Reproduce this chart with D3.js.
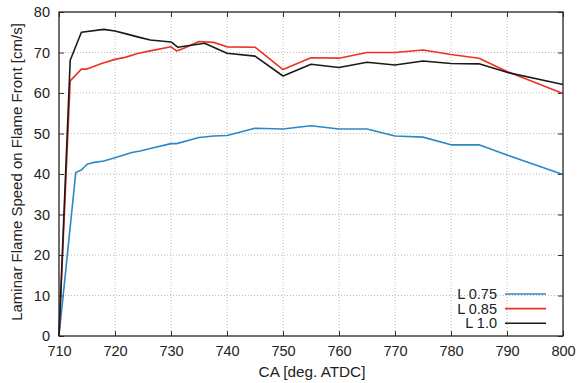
<!DOCTYPE html>
<html><head><meta charset="utf-8">
<script src="https://cdn.jsdelivr.net/npm/d3@7"></script>
<style>
body{margin:0;background:#fff;}
svg{display:block;font-family:"Liberation Sans",Arial,Helvetica,sans-serif;}
</style></head><body>
<svg id="c" width="579" height="383"></svg>
<script>
const xTicks = [710,720,730,740,750,760,770,780,790,800];
const yTicks = [0,10,20,30,40,50,60,70,80];
const seriesNames = ["L 0.75","L 0.85","L 1.0"];
const seriesColors = ["#2b88c8","#ee3124","#1a1a1a"];

const caBlue = [710,713,714,715,716,718,720,723,724.5,726.3,730,731,735,737.6,740,745,750,755,760,765,770,775,780,785,790,800];
const valBlue = [0,40.4,41,42.4,42.8,43.2,44,45.3,45.7,46.3,47.5,47.5,49,49.4,49.5,51.3,51.1,51.9,51.1,51.1,49.4,49.1,47.2,47.2,44.7,39.9];

const caRed = [710,712,714,715,717.6,720,721.8,724.2,726.3,730,731,732.2,735,737.6,740,745,750,755,760,765,770,775,780,785,790,800];
const valRed = [0,63,65.9,65.9,67.3,68.3,68.8,69.8,70.4,71.4,70.4,71,72.7,72.5,71.4,71.3,65.8,68.7,68.6,70,70,70.6,69.5,68.6,65.3,59.9];

const caBlack = [710,712,714,718,720,722,724.2,726.3,730,731.2,736,740,745,750,755,760,765,770,775,780,785,790,800];
const valBlack = [0,68.1,75,75.7,75.3,74.6,73.8,73.1,72.6,71.3,72.3,69.8,69.1,64.2,67.1,66.3,67.6,66.9,67.9,67.3,67.2,65.1,62.1];

const svg = d3.select("#c");
const L=59, R=563, T=12, B=336;
const x = d3.scaleLinear().domain([710,800]).range([L,R]);
const y = d3.scaleLinear().domain([0,80]).range([B,T]);
const textCol = "#222";

// grid
const g = svg.append("g");
g.selectAll(".gx").data(xTicks.slice(1,-1)).enter().append("line")
 .attr("x1",d=>x(d)).attr("x2",d=>x(d)).attr("y1",T).attr("y2",B)
 .attr("stroke","#bbb").attr("stroke-width",1).attr("stroke-dasharray","1,2");
g.selectAll(".gy").data(yTicks.slice(1,-1)).enter().append("line")
 .attr("y1",d=>y(d)).attr("y2",d=>y(d)).attr("x1",L).attr("x2",R)
 .attr("stroke","#bbb").attr("stroke-width",1).attr("stroke-dasharray","1,2");

// axes
const xa = svg.append("g").attr("transform",`translate(0,${B})`)
 .call(d3.axisBottom(x).tickValues(xTicks).tickSize(-5).tickPadding(10).tickFormat(d3.format("d")));
const xt = svg.append("g").attr("transform",`translate(0,${T})`)
 .call(d3.axisTop(x).tickValues(xTicks).tickSize(-5).tickFormat(""));
const ya = svg.append("g").attr("transform",`translate(${L},0)`)
 .call(d3.axisLeft(y).tickValues(yTicks).tickSize(-5).tickPadding(9).tickFormat(d3.format("d")));
const yr = svg.append("g").attr("transform",`translate(${R},0)`)
 .call(d3.axisRight(y).tickValues(yTicks).tickSize(-5).tickFormat(""));
[xa,xt,ya,yr].forEach(a=>{
  a.select(".domain").remove();
  a.selectAll(".tick line").attr("stroke","#333");
  a.selectAll("text").attr("fill",textCol).style("font-size","14.5px").style("font-family","Liberation Sans, Arial, sans-serif");
});

// series
const series = [[caBlue,valBlue],[caRed,valRed],[caBlack,valBlack]];
const line = d3.line().x(d=>x(d[0])).y(d=>y(d[1]));
series.forEach((s,i)=>{
  const pts = s[0].map((c,j)=>[c,s[1][j]]);
  svg.append("path").datum(pts).attr("d",line).attr("fill","none")
   .attr("stroke",seriesColors[i]).attr("stroke-width",1.6).attr("stroke-linejoin","round");
});

// frame
svg.append("rect").attr("x",L).attr("y",T).attr("width",R-L).attr("height",B-T)
 .attr("fill","none").attr("stroke","#222").attr("stroke-width",1.3);

// legend
const leg = svg.append("g");
seriesNames.forEach((n,i)=>{
  const yy = 294 + i*14.6;
  leg.append("text").attr("x",497).attr("y",yy).attr("dy","0.35em").attr("text-anchor","end")
   .attr("fill",textCol).style("font-size","14.5px").text(n);
  leg.append("line").attr("x1",505).attr("x2",546).attr("y1",yy).attr("y2",yy)
   .attr("stroke",seriesColors[i]).attr("stroke-width",1.6);
});

// axis titles
svg.append("text").attr("x",312).attr("y",377).attr("text-anchor","middle")
 .attr("fill",textCol).style("font-size","15.3px").text("CA [deg. ATDC]");
svg.append("text").attr("transform",`translate(17,172) rotate(-90)`).attr("text-anchor","middle")
 .attr("dy","0.35em").attr("fill",textCol).style("font-size","15px").text("Laminar Flame Speed on Flame Front [cm/s]");
</script>
</body></html>
